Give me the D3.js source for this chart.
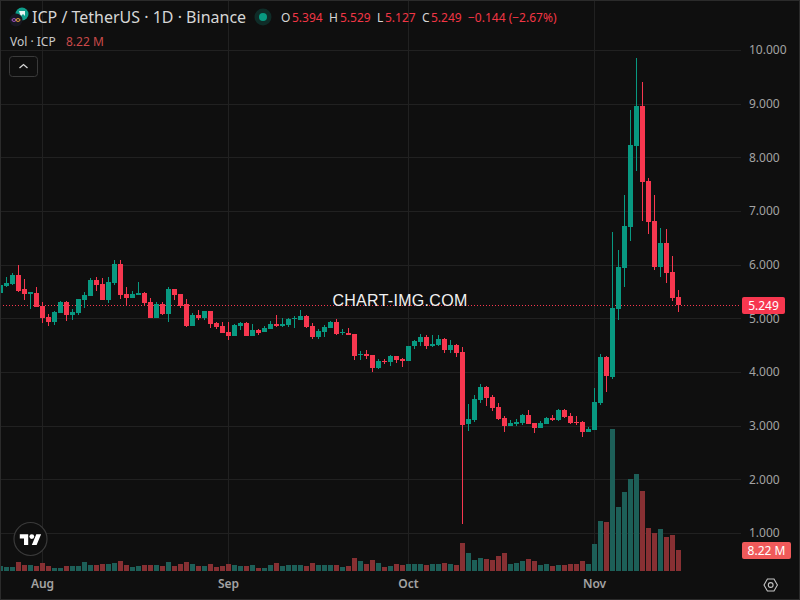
<!DOCTYPE html>
<html>
<head>
<meta charset="utf-8">
<script src="https://cdn.jsdelivr.net/npm/d3@7"></script>
<style>
  html, body { margin: 0; padding: 0; background: #0f0f0f; }
  svg { display: block; font-family: "Noto Sans", sans-serif; }
</style>
</head>
<body>
<svg id="chart" width="800" height="600"></svg>
<script>
const firstDay = '2025-07-25';
const lastDay = '2025-11-15';

const opens = [
  5.484, 5.608, 5.645, 5.813, 5.552, 5.459, 5.478, 5.242, 5.031, 4.937,
  5.105, 5.310, 5.068, 5.105, 5.347, 5.422, 5.720, 5.645, 5.347, 5.664,
  6.018, 5.459, 5.385, 5.440, 5.478, 5.310, 5.012, 5.273, 5.086, 5.552,
  5.459, 5.272, 4.862, 5.067, 5.011, 5.142, 4.918, 4.862, 4.750, 4.676,
  4.862, 4.918, 4.676, 4.788, 4.750, 4.806, 4.899, 4.862, 4.881, 4.993,
  4.974, 5.048, 4.862, 4.657, 4.750, 4.825, 4.937, 4.738, 4.732, 4.713,
  4.328, 4.340, 4.322, 4.080, 4.216, 4.191, 4.303, 4.247, 4.210, 4.489,
  4.564, 4.657, 4.489, 4.508, 4.620, 4.415, 4.508, 4.378, 3.036, 3.111,
  3.483, 3.726, 3.539, 3.353, 3.148, 2.999, 3.036, 3.055, 3.204, 3.055,
  2.962, 3.036, 3.148, 3.111, 3.297, 3.186, 3.074, 3.074, 2.887, 2.925,
  3.428, 4.285, 3.912, 5.179, 5.943, 6.707, 8.213, 8.959, 7.561, 6.819,
  5.962, 6.409, 5.869, 5.394
];
const highs = [
  5.627, 5.770, 5.850, 6.000, 5.739, 5.496, 5.590, 5.310, 5.086, 5.142,
  5.329, 5.329, 5.180, 5.366, 5.496, 5.757, 5.776, 5.757, 5.776, 6.093,
  6.093, 5.590, 5.515, 5.683, 5.496, 5.385, 5.310, 5.310, 5.590, 5.552,
  5.459, 5.365, 5.104, 5.160, 5.142, 5.142, 4.937, 4.937, 4.937, 4.899,
  4.937, 4.937, 4.899, 4.806, 4.862, 4.955, 5.067, 5.011, 5.011, 5.048,
  5.160, 5.067, 4.918, 4.806, 4.881, 4.955, 4.993, 4.806, 4.825, 4.713,
  4.396, 4.415, 4.322, 4.247, 4.247, 4.322, 4.303, 4.266, 4.489, 4.601,
  4.713, 4.694, 4.694, 4.694, 4.639, 4.601, 4.527, 4.471, 3.409, 3.576,
  3.781, 3.744, 3.576, 3.427, 3.185, 3.111, 3.129, 3.222, 3.297, 3.055,
  3.092, 3.167, 3.204, 3.316, 3.316, 3.241, 3.186, 3.092, 2.980, 3.707,
  4.341, 4.304, 6.614, 6.279, 7.304, 8.884, 9.853, 9.406, 7.617, 7.304,
  6.689, 6.670, 6.167, 5.529
];
const lows = [
  5.484, 5.590, 5.627, 5.496, 5.347, 5.180, 5.217, 4.919, 4.863, 4.881,
  5.105, 4.956, 4.975, 5.068, 5.198, 5.422, 5.515, 5.347, 5.291, 5.627,
  5.366, 5.254, 5.385, 5.440, 5.236, 5.012, 5.012, 5.068, 4.937, 5.347,
  5.200, 4.844, 4.862, 4.974, 4.974, 4.825, 4.806, 4.732, 4.601, 4.676,
  4.788, 4.676, 4.676, 4.694, 4.750, 4.806, 4.844, 4.844, 4.844, 4.825,
  4.974, 4.825, 4.620, 4.620, 4.657, 4.825, 4.694, 4.694, 4.694, 4.229,
  4.229, 4.247, 4.005, 4.061, 4.154, 4.117, 4.173, 4.098, 4.210, 4.434,
  4.489, 4.434, 4.471, 4.489, 4.359, 4.359, 4.285, 1.180, 2.906, 3.073,
  3.427, 3.372, 3.278, 3.111, 2.887, 2.999, 2.999, 3.018, 3.036, 2.869,
  2.962, 3.036, 3.092, 3.092, 3.148, 3.036, 3.018, 2.794, 2.887, 2.925,
  3.390, 3.633, 3.875, 4.974, 5.589, 6.446, 7.747, 6.819, 6.577, 5.906,
  5.776, 5.664, 5.328, 5.127
];
const closes = [
  5.627, 5.664, 5.813, 5.515, 5.459, 5.490, 5.217, 5.012, 4.937, 5.124,
  5.310, 5.068, 5.124, 5.366, 5.440, 5.720, 5.627, 5.347, 5.683, 6.018,
  5.440, 5.385, 5.459, 5.478, 5.291, 5.012, 5.273, 5.086, 5.552, 5.440,
  5.235, 4.862, 5.067, 5.011, 5.142, 4.899, 4.844, 4.732, 4.676, 4.881,
  4.918, 4.676, 4.788, 4.732, 4.825, 4.899, 4.862, 4.899, 4.993, 5.011,
  5.048, 4.844, 4.657, 4.769, 4.844, 4.937, 4.713, 4.757, 4.694, 4.303,
  4.347, 4.309, 4.080, 4.210, 4.198, 4.303, 4.229, 4.216, 4.489, 4.583,
  4.657, 4.489, 4.527, 4.620, 4.415, 4.508, 4.359, 3.017, 3.129, 3.502,
  3.726, 3.521, 3.334, 3.129, 2.999, 3.055, 3.073, 3.204, 3.036, 2.962,
  3.055, 3.148, 3.111, 3.297, 3.167, 3.055, 3.055, 2.887, 2.943, 3.446,
  4.285, 3.931, 5.198, 5.962, 6.726, 8.232, 8.959, 7.546, 6.800, 5.962,
  6.409, 5.850, 5.393, 5.249
];
// volume in millions of ICP
const volumes = [
  1.8, 1.6, 1.6, 3.5, 2.3, 2.3, 2.0, 3.1, 2.0, 1.2,
  1.2, 2.0, 2.0, 2.0, 3.5, 2.3, 2.3, 2.7, 2.7, 3.1,
  3.9, 2.3, 1.6, 2.0, 2.3, 2.3, 2.3, 2.0, 3.5, 2.0,
  2.7, 3.5, 2.7, 2.0, 2.0, 2.7, 1.6, 2.0, 2.7, 2.3,
  2.0, 2.0, 2.3, 1.2, 1.2, 2.3, 3.1, 2.0, 2.3, 2.3,
  2.3, 2.0, 3.1, 2.3, 2.3, 2.3, 2.3, 1.6, 2.0, 5.1,
  3.9, 2.7, 4.3, 3.1, 1.6, 2.0, 2.7, 2.3, 2.7, 2.7,
  2.7, 2.3, 2.7, 2.7, 3.1, 2.7, 2.3, 11.0, 7.0, 4.3,
  5.1, 4.7, 4.3, 5.9, 7.0, 2.7, 3.1, 3.9, 4.7, 3.9,
  2.3, 2.7, 2.0, 2.3, 2.3, 2.7, 2.7, 3.9, 2.7, 10.6,
  19.6, 19.2, 55.6, 25.1, 30.9, 36.0, 38.0, 31.3, 16.8, 14.9,
  16.4, 13.3, 14.1, 8.22
];
const priceTicks = [1, 2, 3, 4, 5, 6, 7, 8, 9, 10];
const monthTicks = ['2025-08-01', '2025-09-01', '2025-10-01', '2025-11-01'];
const lastPriceLabel = '5.249';
const lastVolumeLabel = '8.22 M';

const green = '#089981';
const red = '#f7374f';
const greenVol = '#1d5f58';
const redVol = '#873033';
const grid = '#212121';
const axisText = '#a3a3a3';
const paneRight = 741;
const paneBottom = 571;

const parseDay = d3.utcParse('%Y-%m-%d');
const days = d3.utcDay.range(parseDay(firstDay), d3.utcDay.offset(parseDay(lastDay), 1));
const candles = days.map((day, i) => ({
  day, open: opens[i], high: highs[i], low: lows[i], close: closes[i], volume: volumes[i]
}));

const xScale = d3.scaleUtc()
    .domain([parseDay(firstDay), parseDay(lastDay)])
    .range([0.3, 678.3]);

const yScale = d3.scaleLinear()
    .domain([1, 10])
    .range([533.3, 50.3]);

const volScale = d3.scaleLinear()
    .domain([0, 55.6])
    .range([paneBottom, 429]);

const svg = d3.select('#chart');

svg.append('rect')
    .attr('width', 800)
    .attr('height', 600)
    .attr('fill', '#0f0f0f');

// price axis + horizontal grid
const yAxis = d3.axisRight(yScale)
    .tickValues(priceTicks)
    .tickFormat(d3.format('.3f'))
    .tickSize(-paneRight)
    .tickPadding(8)
    .offset(0.2);

const yG = svg.append('g')
    .attr('transform', `translate(${paneRight}, 0)`)
    .call(yAxis);

// time axis + vertical grid
const xAxis = d3.axisBottom(xScale)
    .tickValues(monthTicks.map(parseDay))
    .tickFormat(d3.utcFormat('%b'))
    .tickSize(-paneBottom)
    .tickPadding(8)
    .offset(0.2);

const xG = svg.append('g')
    .attr('transform', `translate(0, ${paneBottom})`)
    .call(xAxis);

[yG, xG].forEach((g) => {
  g.select('.domain').remove();
  g.selectAll('line').attr('stroke', grid).attr('shape-rendering', 'crispEdges');
  g.selectAll('text').attr('fill', axisText).style('font-size', '12px')
      .style('font-family', '"Noto Sans", sans-serif');
});
xG.selectAll('text').style('font-weight', 600);

// volume pane
svg.append('g')
    .attr('shape-rendering', 'crispEdges')
    .selectAll('rect')
    .data(candles)
    .enter()
    .append('rect')
        .attr('x', (d) => Math.round(xScale(d.day) - 2.5))
        .attr('width', 5)
        .attr('y', (d) => volScale(d.volume))
        .attr('height', (d) => paneBottom - volScale(d.volume))
        .attr('fill', (d) => d.close >= d.open ? greenVol : redVol);

// last price line
const lastY = Math.round(yScale(closes[closes.length - 1])) + 0.5;
svg.append('line')
    .attr('x1', 0)
    .attr('x2', paneRight)
    .attr('y1', lastY)
    .attr('y2', lastY)
    .attr('stroke', red)
    .attr('stroke-dasharray', '1 2');

// candles
const candleG = svg.append('g')
    .attr('shape-rendering', 'crispEdges')
    .selectAll('g')
    .data(candles)
    .enter()
    .append('g')
        .attr('fill', (d) => d.close >= d.open ? green : red);

candleG.append('rect')
    .attr('x', (d) => Math.floor(xScale(d.day)))
    .attr('width', 1)
    .attr('y', (d) => yScale(d.high))
    .attr('height', (d) => yScale(d.low) - yScale(d.high));

candleG.append('rect')
    .attr('x', (d) => Math.round(xScale(d.day) - 2.5))
    .attr('width', 5)
    .attr('y', (d) => yScale(Math.max(d.open, d.close)))
    .attr('height', (d) => Math.max(1, Math.abs(yScale(d.open) - yScale(d.close))));

// watermark
svg.append('text')
    .attr('x', 400)
    .attr('y', 306)
    .attr('text-anchor', 'middle')
    .attr('fill', '#f2f2f2')
    .style('font-family', '"Liberation Sans", sans-serif')
    .style('font-size', '16px')
    .style('letter-spacing', '0.3px')
    .text('CHART-IMG.COM');

// axis value labels
function axisLabel(text, top, w, h, fill) {
  svg.append('rect')
      .attr('x', 742).attr('y', top).attr('width', w).attr('height', h)
      .attr('rx', 2).attr('fill', fill);
  svg.append('text')
      .attr('x', 742 + w / 2).attr('y', top + h / 2 + 4.5)
      .attr('text-anchor', 'middle')
      .attr('fill', '#ffffff')
      .style('font-size', '12px')
      .text(text);
}
axisLabel(lastPriceLabel, 297, 43, 17, red);
axisLabel(lastVolumeLabel, 542, 49, 17, '#f05a5a');

// header: symbol icons
const icons = svg.append('g');
icons.append('circle').attr('cx', 22).attr('cy', 14).attr('r', 6.5).attr('fill', '#0f9d8a');
icons.append('path').attr('d', 'M19 11h6v5l-2-2-2 2-1-2z').attr('fill', '#e8f5f3');
icons.append('circle').attr('cx', 16).attr('cy', 20).attr('r', 6.5).attr('fill', '#171722');
icons.append('ellipse').attr('cx', 14).attr('cy', 20).attr('rx', 2).attr('ry', 1.4)
    .attr('fill', 'none').attr('stroke', '#a855c8');
icons.append('ellipse').attr('cx', 18).attr('cy', 20).attr('rx', 2).attr('ry', 1.4)
    .attr('fill', 'none').attr('stroke', '#e8a13c');

function headerText(x, y, text, fill, size) {
  return svg.append('text')
      .attr('x', x).attr('y', y)
      .attr('fill', fill)
      .style('font-size', size + 'px')
      .text(text);
}

headerText(32, 23, 'ICP / TetherUS · 1D · Binance', '#d6d6d6', 16);

svg.append('circle').attr('cx', 263).attr('cy', 17).attr('r', 8.5).attr('fill', '#0f2c28');
svg.append('circle').attr('cx', 263).attr('cy', 17).attr('r', 4).attr('fill', green);

const ohlc = [
  ['O', 281, '5.394', 292],
  ['H', 329, '5.529', 340],
  ['L', 377, '5.127', 385],
  ['C', 422, '5.249', 431]
];
ohlc.forEach(([letter, lx, value, vx]) => {
  headerText(lx, 22, letter, '#d6d6d6', 12);
  headerText(vx, 22, value, '#f23645', 12);
});
headerText(468, 22, '−0.144 (−2.67%)', '#f23645', 12);

headerText(10, 46, 'Vol · ICP', '#c9c9c9', 12);
headerText(66, 46, '8.22 M', '#c94a4a', 12);

// collapse button
svg.append('rect')
    .attr('x', 9.5).attr('y', 56.5).attr('width', 28).attr('height', 20).attr('rx', 3)
    .attr('fill', '#0f0f0f').attr('stroke', '#3a3a3a');
svg.append('path')
    .attr('d', 'M19.5 68l4-3.5 4 3.5')
    .attr('fill', 'none').attr('stroke', '#d6d6d6').attr('stroke-width', 1.3);

// logo
svg.append('circle')
    .attr('cx', 30.5).attr('cy', 539).attr('r', 16.5)
    .attr('fill', '#0f0f0f').attr('stroke', '#3a3a3a').attr('stroke-width', 1.2);
const logo = svg.append('g')
    .attr('transform', 'translate(19.8, 531.8) scale(0.6)')
    .attr('fill', '#ffffff');
logo.append('path').attr('d', 'M14 22H7V11H0V4h14v18zM28 22h-8l7.5-18h8L28 22z');
logo.append('circle').attr('cx', 20).attr('cy', 8).attr('r', 4);

// settings icon
svg.append('path')
    .attr('d', 'M764 585l3.4-6h6.6l3.4 6-3.4 6h-6.6z')
    .attr('fill', 'none').attr('stroke', '#c4c4c4').attr('stroke-width', 1.1);
svg.append('circle')
    .attr('cx', 770.7).attr('cy', 585).attr('r', 2.4)
    .attr('fill', 'none').attr('stroke', '#c4c4c4').attr('stroke-width', 1.1);

// frame
svg.append('rect')
    .attr('x', 0.5).attr('y', 0.5).attr('width', 799).attr('height', 599)
    .attr('fill', 'none').attr('stroke', '#2b2b2b').attr('stroke-width', 1);
</script>
</body>
</html>
